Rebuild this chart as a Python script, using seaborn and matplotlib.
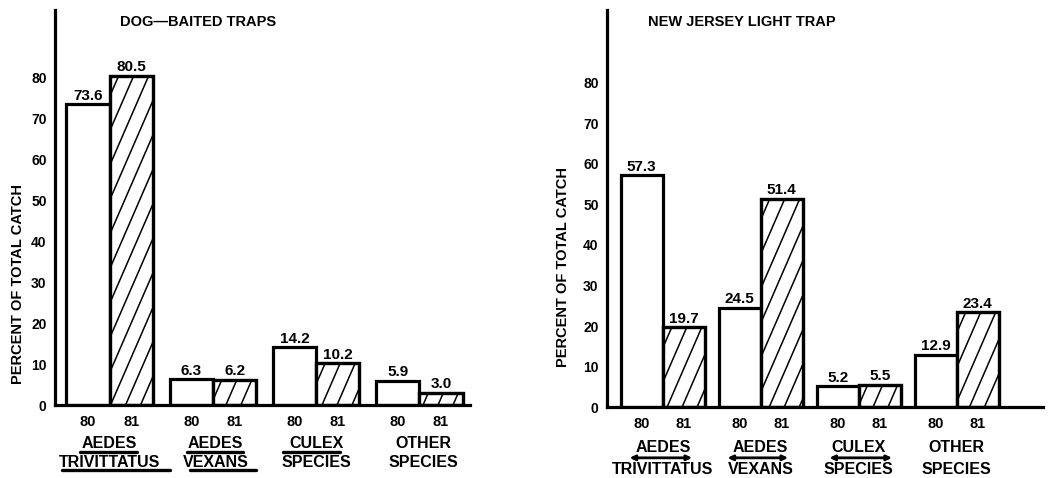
import numpy as np
import pandas as pd
import matplotlib
matplotlib.use("Agg")
import matplotlib.pyplot as plt
import matplotlib.transforms as mtransforms
import seaborn as sns

# chart data
species = ["AT", "AV", "CS", "OS"]
label_top = ["AEDES", "AEDES", "CULEX", "OTHER"]
label_bottom = ["TRIVITTATUS", "VEXANS", "SPECIES", "SPECIES"]
years = ["80", "81"]
dog_80 = [73.6, 6.3, 14.2, 5.9]
dog_81 = [80.5, 6.2, 10.2, 3.0]
nj_80 = [57.3, 24.5, 5.2, 12.9]
nj_81 = [19.7, 51.4, 5.5, 23.4]
y_ticks = [0, 10, 20, 30, 40, 50, 60, 70, 80]
titles = ["DOG\u2014BAITED TRAPS", "NEW JERSEY LIGHT TRAP"]
y_title = "PERCENT OF TOTAL CATCH"

sns.set_theme(style="white")
plt.rcParams["font.family"] = ["Liberation Sans", "DejaVu Sans"]
plt.rcParams["font.weight"] = "bold"
for key in ["text.color", "axes.labelcolor", "xtick.color", "ytick.color"]:
    plt.rcParams[key] = "black"

LW = 2.3


def steep_hatch(ax, patch, spacing_px=15, slope=2.3):
    # steep diagonal hatching like the printed figure, clipped to the bar
    trans = ax.transData
    (ox, oy), (ux, uy) = trans.transform([(0, 0), (1, 1)])
    px_x, px_y = ux - ox, uy - oy
    x0, y0 = patch.get_x(), patch.get_y()
    w, h = patch.get_width(), patch.get_height()
    run = (h * px_y / slope) / px_x
    step = spacing_px / px_x
    for xs in np.arange(x0 - run + step * 0.6, x0 + w, step):
        ln, = ax.plot([xs, xs + run], [y0, y0 + h], color="black", lw=1.1,
                      solid_capstyle="butt", zorder=1.1)
        ln.set_clip_path(patch)


def draw_panel(ax, v80, v81, title, cfg):
    df = pd.DataFrame({
        "species": species * 2,
        "year": [years[0]] * len(species) + [years[1]] * len(species),
        "pct": v80 + v81,
    })
    sns.barplot(data=df, x="species", y="pct", hue="year", order=species,
                hue_order=years, palette={"80": "white", "81": "white"},
                edgecolor="black", linewidth=LW, width=cfg["width"],
                saturation=1, legend=False, ax=ax)
    for cont in ax.containers:
        ax.bar_label(cont, fmt="%.1f", padding=1, fontsize=11, fontweight="bold")

    # year labels under each bar
    pos, labs = [], []
    for yr, cont in zip(years, ax.containers):
        for p in cont:
            pos.append(p.get_x() + p.get_width() / 2)
            labs.append(yr)
    ax.set_xticks(pos, labs)
    ax.tick_params(axis="x", length=0, pad=7, labelsize=10.5)
    ax.tick_params(axis="y", direction="in", length=4, width=2, pad=6, labelsize=10)
    ax.set_yticks(y_ticks)
    ax.set_xlim(*cfg["xlim"])
    ax.set_ylim(0, cfg["ytop"])
    ax.set_xlabel("")
    ax.set_ylabel("")
    for s in ["top", "right"]:
        ax.spines[s].set_visible(False)
    for s in ["left", "bottom"]:
        ax.spines[s].set_linewidth(LW)
        ax.spines[s].set_color("black")

    # 81 bars: white fill, hatch lines, then outline on top
    for p in ax.containers[1]:
        p.set_zorder(1)
        steep_hatch(ax, p)
        outline = plt.Rectangle((p.get_x(), p.get_y()), p.get_width(), p.get_height(),
                                fill=False, edgecolor="black", lw=LW, zorder=1.2)
        ax.add_patch(outline)

    # species labels
    for i in range(len(species)):
        ax.annotate(label_top[i], xy=(i, 0), xycoords=("data", "axes fraction"),
                    xytext=(cfg["dx"][i], cfg["line1"]), textcoords="offset points",
                    ha="center", va="center", fontsize=11.5, fontweight="bold",
                    annotation_clip=False)
        ax.annotate(label_bottom[i], xy=(i, 0), xycoords=("data", "axes fraction"),
                    xytext=(cfg["dx"][i], cfg["line2"]), textcoords="offset points",
                    ha="center", va="center", fontsize=11.5, fontweight="bold",
                    annotation_clip=False)

    blend = mtransforms.blended_transform_factory(ax.transData, ax.transAxes)
    for i, x0, x1, yy, kind in cfg["underlines"]:
        if kind == "arrow":
            ax.annotate("", xy=(i + x1, yy), xytext=(i + x0, yy),
                        xycoords=("data", "axes fraction"),
                        textcoords=("data", "axes fraction"),
                        arrowprops=dict(arrowstyle="<|-|>,head_length=0.25,head_width=0.12",
                                        lw=2, color="black", shrinkA=0, shrinkB=0),
                        annotation_clip=False)
        else:
            ax.plot([i + x0, i + x1], [yy, yy], transform=blend, clip_on=False,
                    color="black", lw=2.4, solid_capstyle="round")

    ax.text(cfg["title_x"], 0.97, title, transform=ax.transAxes, ha="left",
            va="center", fontsize=10.5, fontweight="bold")
    ax.text(cfg["ylab_x"], cfg["ylab_y"], y_title, transform=ax.transAxes,
            rotation=90, ha="center", va="center", fontsize=10.5, fontweight="bold")


fig = plt.figure(figsize=(10.49, 4.78), dpi=100)
ax1 = fig.add_axes([0.0524, 0.1527, 0.3956, 0.8264])
ax2 = fig.add_axes([0.5786, 0.1485, 0.4156, 0.8305])

left_cfg = {
    "width": 0.84, "xlim": (-0.53, 3.49), "ytop": 96.6,
    "line1": -27.5, "line2": -41.5, "dx": [0, 2, 0, 3],
    "underlines": [(0, -0.29, 0.26, -0.119, "line"), (0, -0.46, 0.58, -0.165, "line"),
                   (1, -0.25, 0.29, -0.119, "line"), (1, -0.22, 0.42, -0.165, "line"),
                   (2, -0.32, 0.23, -0.119, "line")],
    "title_x": 0.157, "ylab_x": -0.089, "ylab_y": 0.306,
}
right_cfg = {
    "width": 0.86, "xlim": (-0.57, 3.88), "ytop": 98,
    "line1": -29.5, "line2": -45, "dx": [0, 0, 0, 0],
    "underlines": [(0, -0.34, 0.30, -0.128, "arrow"), (1, -0.34, 0.28, -0.128, "arrow"),
                   (2, -0.30, 0.34, -0.128, "arrow")],
    "title_x": 0.094, "ylab_x": -0.101, "ylab_y": 0.353,
}

draw_panel(ax1, dog_80, dog_81, titles[0], left_cfg)
draw_panel(ax2, nj_80, nj_81, titles[1], right_cfg)

fig.savefig("out.png", dpi=100)
